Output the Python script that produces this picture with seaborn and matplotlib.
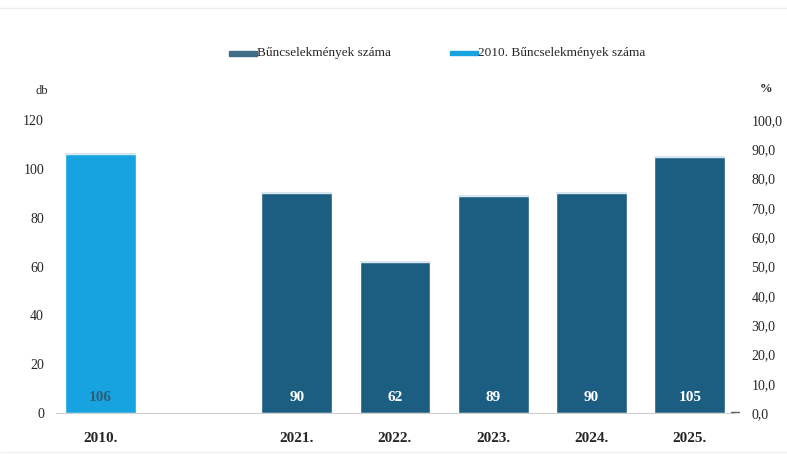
import matplotlib
matplotlib.use("Agg")
import matplotlib.pyplot as plt
import pandas as pd
import seaborn as sns

# chart data
categories = ["2010.", " ", "2021.", "2022.", "2023.", "2024.", "2025."]
years = ["2010.", "2021.", "2022.", "2023.", "2024.", "2025."]
counts = [106, 90, 62, 89, 90, 105]
series = ["2010. Bűncselekmények száma", "Bűncselekmények száma",
          "Bűncselekmények száma", "Bűncselekmények száma",
          "Bűncselekmények száma", "Bűncselekmények száma"]
left_ticks = [0, 20, 40, 60, 80, 100, 120]
right_ticks = ["0,0", "10,0", "20,0", "30,0", "40,0", "50,0",
               "60,0", "70,0", "80,0", "90,0", "100,0"]

dark = "#1c5d82"
light = "#16a3df"

sns.set_style("white")
plt.rcParams["font.family"] = ["Liberation Serif", "DejaVu Serif"]

df = pd.DataFrame({"year": years, "count": counts, "series": series})

fig = plt.figure(figsize=(7.87, 4.55), dpi=100)
ax = fig.add_axes([51 / 787, 42 / 455, 688 / 787, 293 / 455])

sns.barplot(data=df, x="year", y="count", hue="series", order=categories,
            hue_order=["Bűncselekmények száma", "2010. Bűncselekmények száma"],
            palette=[dark, light], dodge=False, width=0.72, saturation=1,
            legend=False, ax=ax)

# thin lighter line on top of each bar and value labels
for p in ax.patches:
    h = p.get_height()
    if h != h or h == 0:
        continue
    x0, w = p.get_x(), p.get_width()
    fc = p.get_facecolor()
    is_light = fc[2] > 0.8 and fc[1] > 0.5
    ax.plot([x0, x0 + w], [h, h], color="#cfe3ee", lw=1.2, solid_capstyle="butt")
    ax.text(x0 + w / 2, 6.5, f"{int(h)}", ha="center", va="center",
            fontsize=11, fontweight="bold",
            color="#2a5f7a" if is_light else "white")

ax.set_ylim(0, 120)
ax.set_xlim(-0.5, len(categories) - 0.5)
ax.set_yticks(left_ticks)
ax.set_yticklabels([str(t) for t in left_ticks], fontsize=10)
ax.tick_params(axis="y", length=0, pad=5)
ax.tick_params(axis="x", length=0, pad=14)
for lab in ax.get_xticklabels():
    lab.set_fontweight("bold")
    lab.set_fontsize(11)
ax.set_xlabel("")
ax.set_ylabel("")
for s in ["top", "right", "left"]:
    ax.spines[s].set_visible(False)
ax.spines["bottom"].set_color("#d0d0d0")
ax.spines["bottom"].set_bounds(-0.45, 6.45)

ax2 = ax.twinx()
ax2.set_ylim(0, 120)
ax2.set_yticks([i * 12 for i in range(11)])
ax2.set_yticklabels(right_ticks, fontsize=10)
ax2.tick_params(axis="y", length=0, pad=9)
for s in ["top", "right", "left", "bottom"]:
    ax2.spines[s].set_visible(False)
# small tick at the right end of the zero line
ax2.plot([6.42, 6.5], [0.6, 0.6], color="#606060", lw=1, clip_on=False)

fig.text(35 / 787, 1 - 91 / 455, "db", fontsize=9, ha="left", va="center")
fig.text(766 / 787, 1 - 89 / 455, "%", fontsize=9, ha="center", va="center",
         fontweight="bold")

# legend
fig.patches.append(plt.Rectangle((229 / 787, 1 - 56 / 455), 28 / 787, 5 / 455,
                                 transform=fig.transFigure, color="#3f6d87"))
fig.text(257 / 787, 1 - 53 / 455, "Bűncselekmények száma", fontsize=9.5,
         ha="left", va="center")
fig.patches.append(plt.Rectangle((450 / 787, 1 - 55 / 455), 28 / 787, 4 / 455,
                                 transform=fig.transFigure, color=light))
fig.text(478 / 787, 1 - 53 / 455, "2010. Bűncselekmények száma", fontsize=9.5,
         ha="left", va="center")

# faint frame lines at top and bottom of the image
fig.add_artist(plt.Line2D([0, 1], [1 - 8 / 455, 1 - 8 / 455], color="#ececec", lw=1))
fig.add_artist(plt.Line2D([0, 1], [3 / 455, 3 / 455], color="#f0f0f0", lw=1))

fig.savefig("out.png", dpi=100)
